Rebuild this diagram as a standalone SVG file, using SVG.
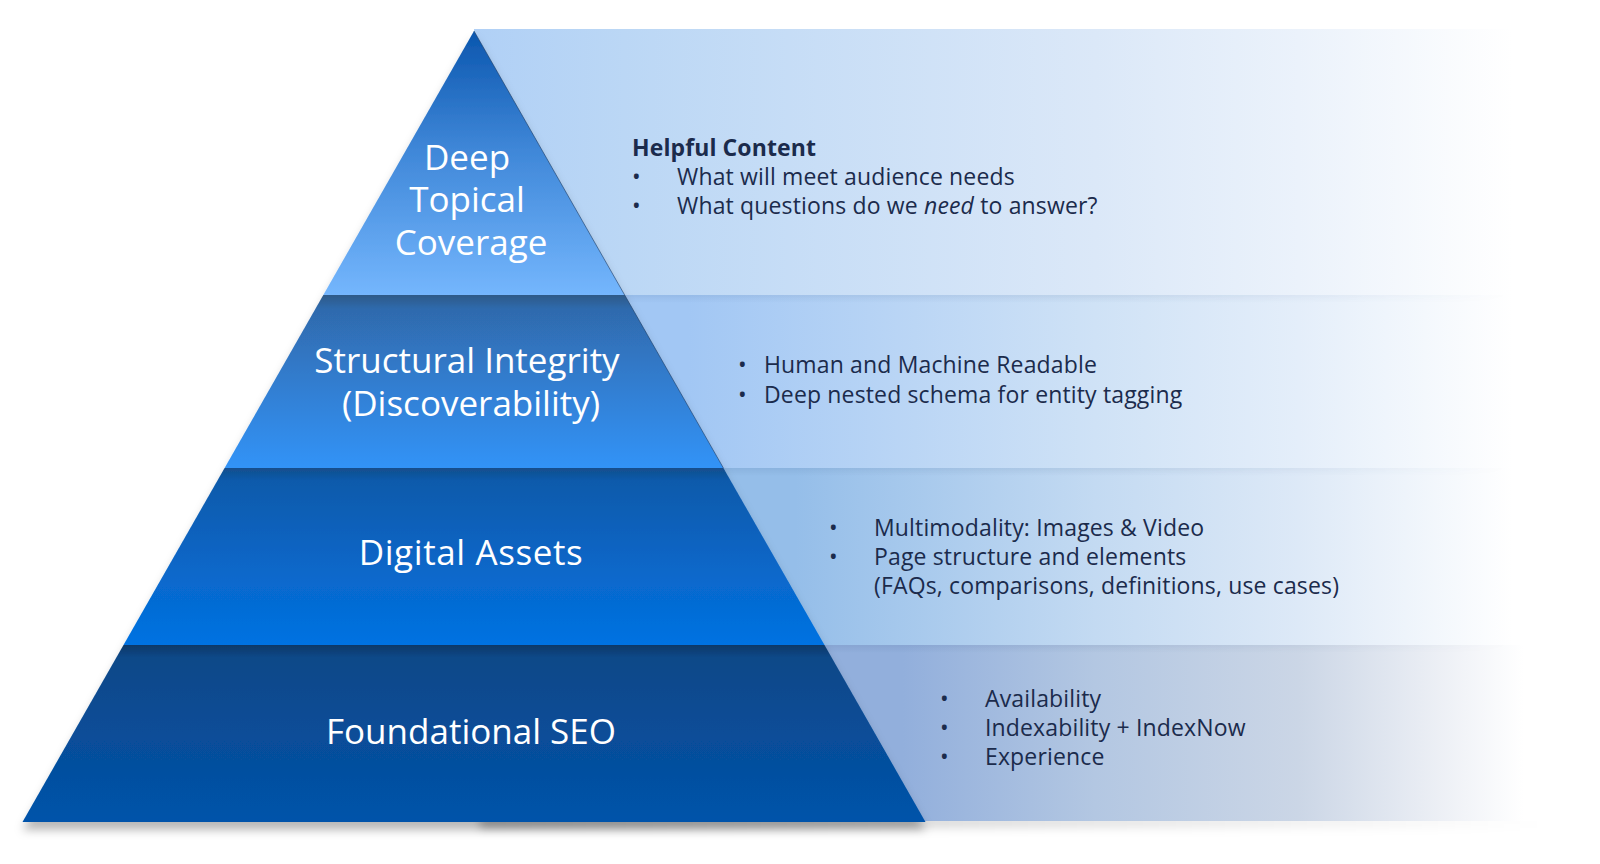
<svg xmlns="http://www.w3.org/2000/svg" width="1600" height="864" viewBox="0 0 1600 864">
  <style>
    .lbl { font-family: "Open Sans", "Noto Sans", sans-serif; font-size: 35px; fill: #ffffff; text-anchor: middle; }
    .txt { font-family: "Open Sans", "Noto Sans", sans-serif; font-size: 23px; letter-spacing: 0.15px; fill: #1b2b4c; }
    .bold { font-weight: 700; letter-spacing: 0.1px; }
  </style>
  <defs>
    <filter id="shadow" x="-5%" y="-5%" width="110%" height="115%">
      <feDropShadow dx="0" dy="8" stdDeviation="5" flood-color="#000000" flood-opacity="0.28"/>
    </filter>
    <filter id="blur" x="-5%" y="-200%" width="110%" height="500%">
      <feGaussianBlur stdDeviation="5"/>
    </filter>
    <linearGradient id="bandShadow" gradientUnits="userSpaceOnUse" x1="480" y1="0" x2="1545" y2="0">
      <stop offset="0" stop-color="#000000" stop-opacity="0.28"/>
      <stop offset="0.45" stop-color="#000000" stop-opacity="0.14"/>
      <stop offset="1" stop-color="#000000" stop-opacity="0"/>
    </linearGradient>
    <linearGradient id="fadeGrad" gradientUnits="userSpaceOnUse" x1="474" y1="0" x2="1545" y2="0">
      <stop offset="0" stop-color="#ffffff"/>
      <stop offset="0.6" stop-color="#ffffff"/>
      <stop offset="0.97" stop-color="#000000"/>
    </linearGradient>
    <mask id="fadeR" maskUnits="userSpaceOnUse" x="0" y="0" width="1600" height="864">
      <rect x="0" y="0" width="1600" height="864" fill="url(#fadeGrad)"/>
    </mask>
    <linearGradient id="b1" gradientUnits="userSpaceOnUse" x1="474" y1="0" x2="1545" y2="0">
      <stop offset="0" stop-color="#b0d0f6"/>
      <stop offset="0.14" stop-color="#bbd7f5"/>
      <stop offset="0.58" stop-color="#dbe8f8"/>
      <stop offset="0.77" stop-color="#ebf2fb"/>
      <stop offset="0.97" stop-color="#ffffff"/>
      <stop offset="1" stop-color="#ffffff"/>
    </linearGradient>
    <linearGradient id="b2" gradientUnits="userSpaceOnUse" x1="474" y1="0" x2="1545" y2="0">
      <stop offset="0.2" stop-color="#a2c7f4"/>
      <stop offset="0.58" stop-color="#cfe2f6"/>
      <stop offset="0.77" stop-color="#e4eefa"/>
      <stop offset="0.97" stop-color="#ffffff"/>
    </linearGradient>
    <linearGradient id="b3" gradientUnits="userSpaceOnUse" x1="474" y1="0" x2="1545" y2="0">
      <stop offset="0.3" stop-color="#95bee9"/>
      <stop offset="0.58" stop-color="#c3daf2"/>
      <stop offset="0.77" stop-color="#dde9f7"/>
      <stop offset="0.97" stop-color="#ffffff"/>
    </linearGradient>
    <linearGradient id="b4" gradientUnits="userSpaceOnUse" x1="474" y1="0" x2="1545" y2="0">
      <stop offset="0.4" stop-color="#92afdc"/>
      <stop offset="0.58" stop-color="#b3c7e2"/>
      <stop offset="0.77" stop-color="#cbd6e6"/>
      <stop offset="0.9" stop-color="#eceff5"/>
      <stop offset="0.98" stop-color="#ffffff"/>
    </linearGradient>
    <linearGradient id="bandTop" x1="0" y1="0" x2="0" y2="1">
      <stop offset="0" stop-color="#1a3a6a" stop-opacity="0.08"/>
      <stop offset="1" stop-color="#1a3a6a" stop-opacity="0"/>
    </linearGradient>
    <linearGradient id="t1" gradientUnits="userSpaceOnUse" x1="0" y1="31" x2="0" y2="295">
      <stop offset="0" stop-color="#0b56ae"/>
      <stop offset="0.45" stop-color="#3f87d8"/>
      <stop offset="1" stop-color="#74b6fd"/>
    </linearGradient>
    <linearGradient id="t2" gradientUnits="userSpaceOnUse" x1="0" y1="295" x2="0" y2="468">
      <stop offset="0" stop-color="#2f5a88"/>
      <stop offset="0.08" stop-color="#2f6aad"/>
      <stop offset="1" stop-color="#3393f7"/>
    </linearGradient>
    <linearGradient id="t3" gradientUnits="userSpaceOnUse" x1="0" y1="468" x2="0" y2="645">
      <stop offset="0" stop-color="#134e8c"/>
      <stop offset="0.07" stop-color="#0e5aab"/>
      <stop offset="1" stop-color="#0372e2"/>
    </linearGradient>
    <linearGradient id="t4" gradientUnits="userSpaceOnUse" x1="0" y1="645" x2="0" y2="822">
      <stop offset="0" stop-color="#0a3868"/>
      <stop offset="0.07" stop-color="#0b4888"/>
      <stop offset="1" stop-color="#0353aa"/>
    </linearGradient>
  </defs>

  <!-- Soft shadow under the bottom band -->
  <rect x="480" y="816" width="1065" height="12" fill="url(#bandShadow)" filter="url(#blur)"/>

  <!-- Right-hand description bands -->
  <g id="bands">
    <g id="band-content">
      <rect x="474" y="29" width="1071" height="266" fill="url(#b1)"/>
    </g>
    <g id="band-structure">
      <rect x="474" y="295" width="1071" height="173" fill="url(#b2)"/>
    </g>
    <g id="band-assets">
      <rect x="474" y="468" width="1071" height="177" fill="url(#b3)"/>
    </g>
    <g id="band-foundation">
      <rect x="474" y="645" width="1071" height="176" fill="url(#b4)"/>
    </g>
    <g mask="url(#fadeR)">
      <rect x="474" y="295" width="1071" height="8" fill="url(#bandTop)"/>
      <rect x="474" y="468" width="1071" height="8" fill="url(#bandTop)"/>
      <rect x="474" y="645" width="1071" height="8" fill="url(#bandTop)"/>
    </g>
  </g>

  <!-- Pyramid -->
  <g id="pyramid" filter="url(#shadow)">
    <g id="tier-deep-topical-coverage">
      <polygon points="474,31 624.7,295 323.3,295" fill="url(#t1)"/>
    </g>
    <g id="tier-structural-integrity">
      <polygon points="323.3,295 624.7,295 723.4,468 224.6,468" fill="url(#t2)"/>
    </g>
    <g id="tier-digital-assets">
      <polygon points="224.6,468 723.4,468 824.5,645 123.5,645" fill="url(#t3)"/>
    </g>
    <g id="tier-foundational-seo">
      <polygon points="123.5,645 824.5,645 925.5,822 22.5,822" fill="url(#t4)"/>
    </g>
    <line x1="474" y1="31" x2="723.4" y2="468" stroke="#1d3a60" stroke-width="1" stroke-opacity="0.6"/>
  </g>

  <!-- Pyramid labels -->
  <g id="labels">
    <text class="lbl" x="467" y="170">Deep</text>
    <text class="lbl" x="467" y="212">Topical</text>
    <text class="lbl" x="471" y="255">Coverage</text>
    <text class="lbl" x="467" y="373">Structural Integrity</text>
    <text class="lbl" x="471" y="416">(Discoverability)</text>
    <text class="lbl" x="471" y="565" letter-spacing="0.6">Digital Assets</text>
    <text class="lbl" x="471" y="744">Foundational SEO</text>
  </g>

  <!-- Band texts -->
  <g id="text-content">
    <text class="txt bold" x="632" y="156">Helpful Content</text>
    <text class="txt" x="632" y="185">•</text>
    <text class="txt" x="677" y="185">What will meet audience needs</text>
    <text class="txt" x="632" y="214">•</text>
    <text class="txt" x="677" y="214">What questions do we <tspan font-style="italic">need</tspan> to answer?</text>
  </g>
  <g id="text-structure">
    <text class="txt" x="738" y="373">•</text>
    <text class="txt" x="764" y="373">Human and Machine Readable</text>
    <text class="txt" x="738" y="402.5">•</text>
    <text class="txt" x="764" y="402.5">Deep nested schema for entity tagging</text>
  </g>
  <g id="text-assets">
    <text class="txt" x="829" y="536">•</text>
    <text class="txt" x="874" y="536">Multimodality: Images &amp; Video</text>
    <text class="txt" x="829" y="565">•</text>
    <text class="txt" x="874" y="565">Page structure and elements</text>
    <text class="txt" x="874" y="594">(FAQs, comparisons, definitions, use cases)</text>
  </g>
  <g id="text-foundation">
    <text class="txt" x="940" y="707">•</text>
    <text class="txt" x="985" y="707">Availability</text>
    <text class="txt" x="940" y="736">•</text>
    <text class="txt" x="985" y="736">Indexability + IndexNow</text>
    <text class="txt" x="940" y="765">•</text>
    <text class="txt" x="985" y="765">Experience</text>
  </g>
</svg>
